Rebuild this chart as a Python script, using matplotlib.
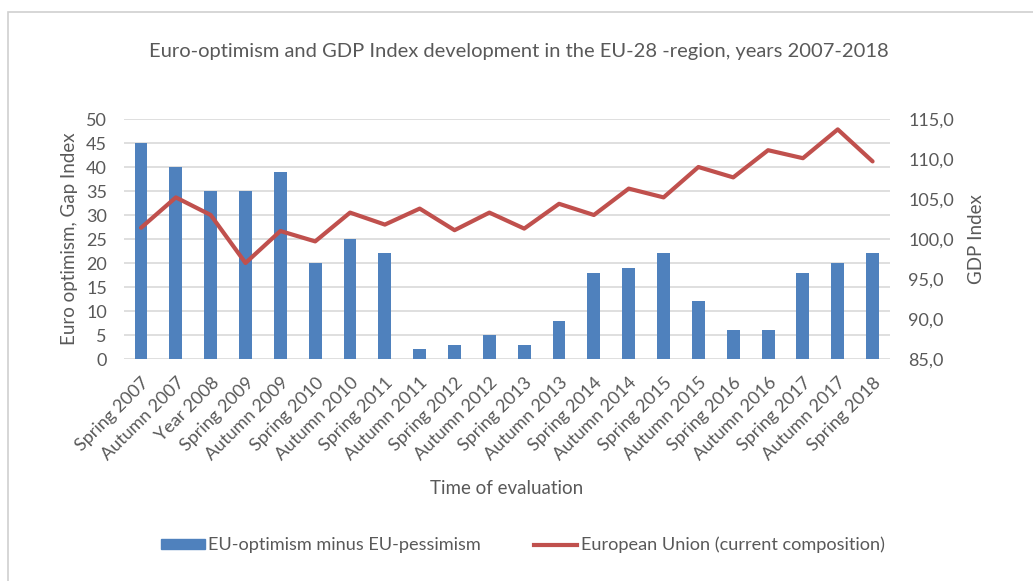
import numpy as np
import matplotlib
matplotlib.use("Agg")
import matplotlib.pyplot as plt
from matplotlib.patches import Rectangle
from matplotlib.lines import Line2D

plt.rcParams['font.family'] = ['Lato', 'DejaVu Sans']

periods = ["Spring 2007", "Autumn 2007", "Year 2008", "Spring 2009", "Autumn 2009",
           "Spring 2010", "Autumn 2010", "Spring 2011", "Autumn 2011", "Spring 2012",
           "Autumn 2012", "Spring 2013", "Autumn 2013", "Spring 2014", "Autumn 2014",
           "Spring 2015", "Autumn 2015", "Spring 2016", "Autumn 2016", "Spring 2017",
           "Autumn 2017", "Spring 2018"]
gap_index = [45, 40, 35, 35, 39, 20, 25, 22, 2, 3, 5, 3, 8, 18, 19, 22, 12, 6, 6, 18, 20, 22]
gdp_index = [101.4, 105.2, 103.0, 97.0, 101.0, 99.7, 103.3, 101.8, 103.8, 101.1, 103.3,
             101.3, 104.4, 103.0, 106.3, 105.2, 109.0, 107.7, 111.1, 110.1, 113.7, 109.7]

TXT = "#595959"
GRID = "#d9d9d9"
BAR = "#4f81bd"
LINE = "#c0504d"

W, H = 1033, 581
fig = plt.figure(figsize=(W / 100, H / 100), dpi=100)

# light frame around the chart (right/bottom run off the image)
fig.patches.append(Rectangle((8 / W, -0.1), 1.2, 1 - 12 / H + 0.1, transform=fig.transFigure,
                             fill=False, edgecolor="#d0d0d0", linewidth=1.2))

ax = fig.add_axes([123.6 / W, (H - 359) / H, (890 - 123.6) / W, 240 / H])
x = np.arange(len(periods))
ax.bar(x, gap_index, width=0.37, color=BAR, zorder=2)
ax.set_xlim(-0.5, len(periods) - 0.5)
ax.set_ylim(0, 50)
ax.set_yticks(np.arange(0, 51, 5))
ax.yaxis.grid(True, color=GRID, linewidth=1.2, zorder=0)
ax.set_axisbelow(True)
for s in ax.spines.values():
    s.set_visible(False)
ax.tick_params(axis="both", length=0, colors=TXT, labelsize=13)
ax.tick_params(axis="y", pad=12)
ax.tick_params(axis="x", pad=11)
ax.set_xticks(x)
ax.set_xticklabels(periods, rotation=45, ha="right", rotation_mode="anchor")
ax.set_ylabel("Euro optimism, Gap Index", color=TXT, fontsize=13.5, labelpad=6)
ax.set_xlabel("Time of evaluation", color=TXT, fontsize=13.5, labelpad=12)

ax2 = ax.twinx()
ax2.plot(x, gdp_index, color=LINE, linewidth=3, solid_capstyle="round", zorder=3)
ax2.set_ylim(85, 115)
ax2.set_yticks(np.arange(85, 116, 5))
ax2.set_yticklabels([f"{v:.1f}".replace(".", ",") for v in np.arange(85, 116, 5)])
for s in ax2.spines.values():
    s.set_visible(False)
ax2.tick_params(axis="y", length=0, colors=TXT, labelsize=13, pad=13)
ax2.set_ylabel("GDP Index", color=TXT, fontsize=13.5, labelpad=10)

fig.text(519 / W, 1 - 52 / H, "Euro-optimism and GDP Index development in the EU-28 -region, years 2007-2018",
         ha="center", va="center", color=TXT, fontsize=14.5)

handles = [Rectangle((0, 0), 1, 1, color=BAR),
           Line2D([], [], color=LINE, linewidth=3)]
fig.legend(handles, ["EU-optimism minus EU-pessimism", "European Union (current composition)"],
           loc="center", bbox_to_anchor=(523 / W, 1 - 545 / H), ncol=2, frameon=False,
           fontsize=13.1, labelcolor=TXT, handlelength=2.4, handletextpad=0.2,
           columnspacing=2.9, handleheight=0.45)

fig.savefig("out.png", dpi=100)
